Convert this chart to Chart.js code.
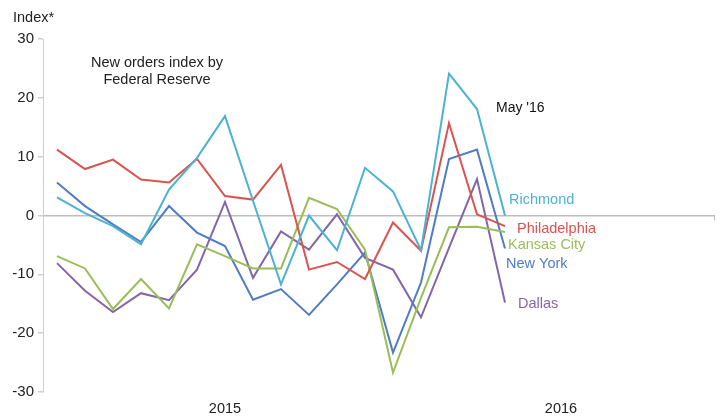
<!DOCTYPE html>
<html>
<head>
<meta charset="utf-8">
<script src="https://cdn.jsdelivr.net/npm/chart.js@4"></script>
<style>
  html, body { margin: 0; padding: 0; background: #fff; }
  #wrap { position: relative; width: 721px; height: 418px; }
</style>
</head>
<body>
<div id="wrap"><canvas id="myChart" width="721" height="418"></canvas></div>
<script>
// monthly categories Jan 2015 .. Dec 2016
const months = ['Jan', 'Feb', 'Mar', 'Apr', 'May', 'Jun', 'Jul', 'Aug', 'Sep', 'Oct', 'Nov', 'Dec'];
const categories = months.map(m => m + ' 2015').concat(months.map(m => m + ' 2016'));
const yearTicks = { 6: '2015', 18: '2016' };

const richmond     = [3.1, 0.4, -1.8, -4.9, 4.4, 9.8, 16.9, 2.5, -11.7, 0.0, -5.9, 8.1, 4.1, -5.9, 24.1, 18.1, 0.0];
const philadelphia = [11.2, 7.9, 9.5, 6.1, 5.6, 9.6, 3.3, 2.7, 8.6, -9.2, -7.9, -10.8, -1.2, -6.0, 15.7, 0.2, -1.8];
const kansasCity   = [-6.9, -9.0, -15.9, -10.8, -15.8, -4.9, -6.9, -9.0, -9.0, 3.0, 1.1, -5.8, -26.7, -14.0, -2.0, -1.9, -2.8];
const newYork      = [5.6, 1.6, -1.5, -4.5, 1.6, -2.9, -5.2, -14.3, -12.5, -16.9, -11.7, -6.3, -23.3, -11.4, 9.6, 11.2, -5.6];
const dallas       = [-8.1, -12.8, -16.4, -13.2, -14.4, -9.2, 2.3, -10.6, -2.7, -5.8, 0.2, -7.2, -9.2, -17.3, -5.5, 6.2, -14.8];

const font = '"Liberation Sans", Arial, sans-serif';

function series(label, data, color) {
  return {
    label: label,
    data: data,
    borderColor: color,
    backgroundColor: color,
    borderWidth: 2,
    pointRadius: 0,
    tension: 0,
    fill: false
  };
}

// text notes drawn on the canvas
const notes = {
  id: 'notes',
  afterDraw(chart) {
    const c = chart.ctx;
    c.save();
    c.textBaseline = 'middle';
    c.font = '14.5px ' + font;
    c.fillStyle = '#222';
    c.textAlign = 'left';
    c.fillText('Index*', 13, 18);
    c.textAlign = 'center';
    c.fillText('New orders index by', 157, 63);
    c.fillText('Federal Reserve', 157, 80);
    c.textAlign = 'left';
    c.font = '14px ' + font;
    c.fillStyle = '#111';
    c.fillText("May '16", 496, 108);
    c.font = '14.5px ' + font;
    const tags = [
      ['Richmond', '#4bb3cf', 509, 200],
      ['Philadelphia', '#d9534f', 517, 229],
      ['Kansas City', '#9bbd57', 508, 245],
      ['New York', '#4f7cc4', 506, 264],
      ['Dallas', '#8466a8', 518, 304]
    ];
    tags.forEach(t => {
      c.fillStyle = t[1];
      c.fillText(t[0], t[2], t[3]);
    });
    // small tick at the right end of the zero line
    const y0 = chart.scales.y.getPixelForValue(0);
    c.strokeStyle = '#bbb';
    c.lineWidth = 1;
    c.beginPath();
    c.moveTo(chart.chartArea.right - 0.5, y0);
    c.lineTo(chart.chartArea.right - 0.5, y0 + 5);
    c.stroke();
    c.restore();
  }
};

const ctx = document.getElementById('myChart').getContext('2d');

const graphData = {
  type: 'line',
  data: {
    labels: categories,
    datasets: [
      series('Richmond', richmond, '#4bb3cf'),
      series('Philadelphia', philadelphia, '#d9534f'),
      series('Kansas City', kansasCity, '#9bbd57'),
      series('New York', newYork, '#4f7cc4'),
      series('Dallas', dallas, '#8466a8')
    ]
  },
  options: {
    responsive: false,
    animation: false,
    layout: { padding: { top: 39, right: 6, left: 0, bottom: 0 } },
    plugins: {
      legend: { display: false },
      tooltip: { enabled: false }
    },
    scales: {
      x: {
        offset: true,
        border: { display: false },
        grid: { display: false, drawTicks: false },
        ticks: {
          autoSkip: false,
          maxRotation: 0,
          padding: 8,
          color: '#222',
          font: { family: font, size: 14.5 },
          callback: (v, i) => yearTicks[i] || ''
        },
        afterFit: s => { s.height = 26; }
      },
      y: {
        min: -30,
        max: 30,
        border: { display: true, color: '#cfcfcf', width: 1 },
        grid: {
          color: c => c.tick.value === 0 ? '#bdbdbd' : 'rgba(0,0,0,0)',
          tickColor: '#cfcfcf',
          tickLength: 5,
          lineWidth: 1.5
        },
        ticks: {
          stepSize: 10,
          padding: 4,
          color: '#222',
          font: { family: font, size: 15 }
        },
        afterFit: s => { s.width = 43; }
      }
    }
  },
  plugins: [notes]
};

const myChart = new Chart(ctx, graphData);
</script>
</body>
</html>
